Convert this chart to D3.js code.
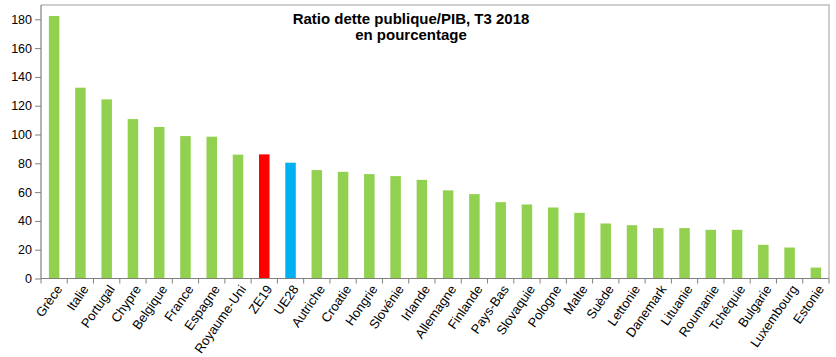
<!DOCTYPE html>
<html><head><meta charset="utf-8">
<script src="https://cdn.jsdelivr.net/npm/d3@7"></script>
<style>body{margin:0;background:#fff}svg{display:block;font-family:"Liberation Sans",Arial,sans-serif}</style>
</head><body>
<svg id="c" width="836" height="357"></svg>
<script>
const categories = ["Grèce","Italie","Portugal","Chypre","Belgique","France","Espagne","Royaume-Uni","ZE19","UE28","Autriche","Croatie","Hongrie","Slovénie","Irlande","Allemagne","Finlande","Pays-Bas","Slovaquie","Pologne","Malte","Suède","Lettonie","Danemark","Lituanie","Roumanie","Tchéquie","Bulgarie","Luxembourg","Estonie"];
const values = [182.3,132.5,124.4,110.7,105.2,98.9,98.5,86.0,86.2,80.4,75.3,74.1,72.5,71.1,68.5,61.2,58.6,53.0,51.4,49.3,45.6,38.2,37.0,35.0,35.0,33.8,33.8,23.4,21.5,7.6];
const yTicks = [0,20,40,60,80,100,120,140,160,180];
const titleLines = ["Ratio dette publique/PIB, T3 2018","en pourcentage"];
const colorOf = c => c === "ZE19" ? "#FF0000" : (c === "UE28" ? "#00B0F0" : "#92D050");

const svg = d3.select("#c");
const L = 41, R = 829, T = 5, B = 278.5;
const x = d3.scaleBand().domain(categories).range([L, R]).paddingInner(0.6).paddingOuter(0.3);
const xb = d3.scaleBand().domain(categories).range([L, R]);
const y = d3.scaleLinear().domain([0, 180]).range([B, 19.3]);

// frame top & right
svg.append("path").attr("d", `M${L},${T}H${R}V${B}`).attr("fill","none").attr("stroke","#BFBFBF").attr("stroke-width",1.5);

svg.selectAll("rect.bar").data(categories).join("rect")
  .attr("x", d => x(d)).attr("width", x.bandwidth())
  .attr("y", (d,i) => y(values[i])).attr("height", (d,i) => B - y(values[i]))
  .attr("fill", d => colorOf(d));

// y axis
const gy = svg.append("g").attr("transform", `translate(${L},0)`)
  .call(d3.axisLeft(y).tickValues(yTicks).tickSize(6).tickSizeOuter(0).tickPadding(3));
gy.select(".domain").attr("stroke","#808080").attr("stroke-width",1.2).attr("d", `M0,${T}V${B}`);
gy.selectAll(".tick line").attr("stroke","#808080");
gy.selectAll("text").attr("font-size", 12.5).attr("fill","#000").attr("font-family","Liberation Sans, Arial");

// x axis baseline + ticks at boundaries
const bounds = categories.map(c => xb(c)).concat([R]);
svg.append("line").attr("x1",L).attr("x2",R).attr("y1",B).attr("y2",B).attr("stroke","#808080").attr("stroke-width",1.2);
svg.selectAll("line.xt").data(bounds).join("line").attr("class","xt")
  .attr("x1", d => d).attr("x2", d => d).attr("y1", B).attr("y2", B + 5).attr("stroke","#808080");

svg.selectAll("text.xl").data(categories).join("text").attr("class","xl")
  .attr("transform", d => `translate(${xb(d) + xb.bandwidth()/2 + 5},${B + 8}) rotate(-55)`)
  .attr("text-anchor","end").attr("dy","0.35em").attr("font-size", 13).attr("fill","#000")
  .text(d => d);

svg.selectAll("text.tt").data(titleLines).join("text").attr("class","tt")
  .attr("x", 411).attr("y", (d,i) => 23.5 + i*16.5).attr("text-anchor","middle")
  .attr("font-size", 15).attr("font-weight","bold").attr("fill","#000").text(d => d);
</script>
</body></html>
